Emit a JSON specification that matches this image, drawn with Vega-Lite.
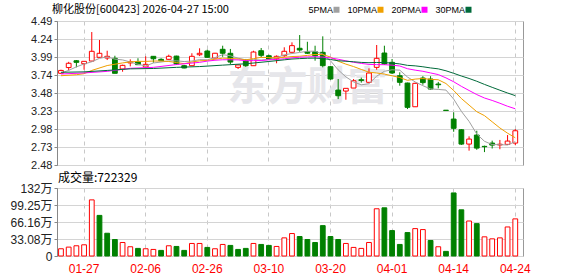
{
  "$schema": "https://vega.github.io/schema/vega-lite/v6.json",
  "padding": {"left": 6, "top": 3, "right": 4, "bottom": 0},
  "spacing": 0,
  "resolve": {"legend": {"color": "independent"}, "scale": {"color": "independent"}},
  "datasets": {
    "k": [
      {"d":"01-22","o":3.76,"h":3.81,"l":3.75,"c":3.80,"v":141000,"m5":3.765,"m10":3.726,"m20":3.75,"m30":3.774},
      {"d":"01-23","o":3.84,"h":3.92,"l":3.80,"c":3.90,"v":173000,"m5":3.80},
      {"d":"01-26","o":3.935,"h":3.945,"l":3.843,"c":3.913,"v":199000,"m5":3.85,"m10":3.74},
      {"d":"01-27","o":3.894,"h":3.93,"l":3.81,"c":3.927,"v":218000,"m5":3.89,"m10":3.755,"m20":3.765,"m30":3.78},
      {"d":"01-28","o":3.931,"h":4.336,"l":3.925,"c":4.067,"v":1092000,"m5":3.921,"m10":3.80},
      {"d":"01-29","o":3.983,"h":4.225,"l":3.975,"c":4.039,"v":790000,"m5":3.969},
      {"d":"01-30","o":3.973,"h":4.075,"l":3.945,"c":3.997,"v":443000,"m5":3.989,"m10":3.868,"m20":3.787,"m30":3.80},
      {"d":"02-02","o":3.969,"h":4.005,"l":3.76,"c":3.76,"v":321000,"m5":3.958},
      {"d":"02-03","o":3.82,"h":3.88,"l":3.782,"c":3.871,"v":263000,"m5":3.947,"m10":3.905},
      {"d":"02-04","o":3.905,"h":3.955,"l":3.857,"c":3.92,"v":180000,"m5":3.917,"m10":3.919,"m20":3.83,"m30":3.822},
      {"d":"02-05","o":3.918,"h":3.97,"l":3.875,"c":3.88,"v":148000,"m5":3.886,"m10":3.927},
      {"d":"02-06","o":3.848,"h":3.997,"l":3.834,"c":3.885,"v":141000,"m5":3.863,"m10":3.926},
      {"d":"02-09","o":3.997,"h":4.0,"l":3.908,"c":3.963,"v":128000,"m5":3.904,"m10":3.931,"m20":3.843,"m30":3.827},
      {"d":"02-10","o":3.955,"h":3.97,"l":3.93,"c":3.935,"v":109000,"m5":3.917,"m10":3.932},
      {"d":"02-11","o":3.955,"h":4.02,"l":3.95,"c":3.997,"v":199000,"m5":3.932,"m10":3.925},
      {"d":"02-12","o":4.0,"h":4.005,"l":3.88,"c":3.89,"v":186000,"m5":3.934,"m10":3.910,"m20":3.882,"m30":3.843},
      {"d":"02-13","o":3.866,"h":3.875,"l":3.83,"c":3.834,"v":109000,"m5":3.924,"m10":3.894},
      {"d":"02-24","o":3.866,"h":4.04,"l":3.866,"c":3.997,"v":244000,"m5":3.931,"m10":3.917},
      {"d":"02-25","o":4.019,"h":4.109,"l":4.0,"c":4.039,"v":244000,"m5":3.951,"m10":3.934,"m20":3.913,"m30":3.854},
      {"d":"02-26","o":4.071,"h":4.09,"l":3.978,"c":3.983,"v":167000,"m5":3.949,"m10":3.940,"m20":3.930},
      {"d":"02-27","o":3.973,"h":4.045,"l":3.97,"c":4.04,"v":141000,"m5":3.979,"m10":3.956,"m20":3.942},
      {"d":"03-02","o":4.095,"h":4.145,"l":3.99,"c":4.04,"v":225000,"m5":4.020,"m10":3.972,"m20":3.949,"m30":3.874},
      {"d":"03-03","o":4.039,"h":4.10,"l":3.89,"c":3.917,"v":206000,"m5":4.004,"m10":3.967,"m20":3.949},
      {"d":"03-04","o":3.843,"h":3.88,"l":3.82,"c":3.876,"v":128000,"m5":3.971,"m10":3.961,"m20":3.947},
      {"d":"03-05","o":3.935,"h":3.96,"l":3.85,"c":3.866,"v":148000,"m5":3.948,"m10":3.948,"m20":3.936,"m30":3.893},
      {"d":"03-06","o":3.866,"h":4.075,"l":3.866,"c":4.057,"v":244000,"m5":3.951,"m10":3.965,"m20":3.937},
      {"d":"03-09","o":4.075,"h":4.113,"l":3.983,"c":4.011,"v":225000,"m5":3.945,"m10":3.983,"m20":3.938},
      {"d":"03-10","o":4.005,"h":4.02,"l":3.95,"c":3.959,"v":206000,"m5":3.954,"m10":3.979,"m20":3.948,"m30":3.925},
      {"d":"03-11","o":3.963,"h":4.01,"l":3.90,"c":3.997,"v":186000,"m5":3.978,"m10":3.975,"m20":3.954},
      {"d":"03-12","o":4.005,"h":4.123,"l":3.99,"c":4.067,"v":353000,"m5":4.018,"m10":3.983,"m20":3.962,"m30":3.948},
      {"d":"03-13","o":4.053,"h":4.192,"l":4.05,"c":4.146,"v":437000,"m5":4.036,"m10":3.994,"m20":3.975,"m30":3.959},
      {"d":"03-16","o":4.109,"h":4.294,"l":4.061,"c":4.085,"v":379000,"m5":4.051,"m10":3.998,"m20":3.985,"m30":3.965},
      {"d":"03-17","o":4.06,"h":4.20,"l":4.03,"c":4.04,"v":321000,"m5":4.067,"m10":4.010,"m20":3.989,"m30":3.970},
      {"d":"03-18","o":4.061,"h":4.145,"l":3.936,"c":4.005,"v":263000,"m5":4.069,"m10":4.023,"m20":3.992,"m30":3.972},
      {"d":"03-19","o":4.053,"h":4.276,"l":3.843,"c":3.866,"v":591000,"m5":4.028,"m10":4.023,"m20":3.986,"m30":3.965},
      {"d":"03-20","o":3.852,"h":3.86,"l":3.67,"c":3.68,"v":379000,"m5":3.935,"m10":3.986,"m20":3.975,"m30":3.953},
      {"d":"03-23","o":3.526,"h":3.68,"l":3.40,"c":3.447,"v":321000,"m5":3.808,"m10":3.929,"m20":3.956,"m30":3.935},
      {"d":"03-24","o":3.512,"h":3.55,"l":3.391,"c":3.55,"v":244000,"m5":3.710,"m10":3.888,"m20":3.934,"m30":3.928},
      {"d":"03-25","o":3.554,"h":3.68,"l":3.554,"c":3.656,"v":167000,"m5":3.640,"m10":3.854,"m20":3.914,"m30":3.921},
      {"d":"03-26","o":3.67,"h":3.70,"l":3.63,"c":3.66,"v":148000,"m5":3.599,"m10":3.814,"m20":3.898,"m30":3.912},
      {"d":"03-27","o":3.634,"h":3.829,"l":3.634,"c":3.764,"v":263000,"m5":3.615,"m10":3.775,"m20":3.884,"m30":3.908},
      {"d":"03-30","o":3.843,"h":4.155,"l":3.81,"c":3.969,"v":919000,"m5":3.720,"m10":3.764,"m20":3.881,"m30":3.911},
      {"d":"03-31","o":4.043,"h":4.145,"l":3.88,"c":3.89,"v":938000,"m5":3.788,"m10":3.749,"m20":3.880,"m30":3.909},
      {"d":"04-01","o":3.913,"h":3.96,"l":3.75,"c":3.764,"v":495000,"m5":3.809,"m10":3.725,"m20":3.874,"m30":3.903},
      {"d":"04-02","o":3.726,"h":3.774,"l":3.587,"c":3.634,"v":225000,"m5":3.804,"m10":3.701,"m20":3.862,"m30":3.891},
      {"d":"04-03","o":3.624,"h":3.63,"l":3.261,"c":3.285,"v":456000,"m5":3.708,"m10":3.662,"m20":3.824,"m30":3.871},
      {"d":"04-07","o":3.293,"h":3.63,"l":3.29,"c":3.62,"v":533000,"m5":3.639,"m10":3.679,"m20":3.804,"m30":3.864},
      {"d":"04-08","o":3.694,"h":3.72,"l":3.60,"c":3.63,"v":514000,"m5":3.587,"m10":3.687,"m20":3.788,"m30":3.851},
      {"d":"04-09","o":3.68,"h":3.72,"l":3.53,"c":3.54,"v":302000,"m5":3.542,"m10":3.676,"m20":3.765,"m30":3.835},
      {"d":"04-10","o":3.61,"h":3.64,"l":3.55,"c":3.60,"v":180000,"m5":3.535,"m10":3.670,"m20":3.742,"m30":3.822},
      {"d":"04-13","o":3.245,"h":3.245,"l":3.24,"c":3.24,"v":90000,"m5":3.526,"m10":3.617,"m20":3.696,"m30":3.795},
      {"d":"04-14","o":3.121,"h":3.215,"l":2.944,"c":2.992,"v":1227000,"m5":3.400,"m10":3.520,"m20":3.642,"m30":3.760},
      {"d":"04-15","o":2.972,"h":2.98,"l":2.76,"c":2.772,"v":899000,"m5":3.229,"m10":3.408,"m20":3.578,"m30":3.722},
      {"d":"04-16","o":2.772,"h":2.88,"l":2.68,"c":2.842,"v":681000,"m5":3.089,"m10":3.316,"m20":3.520,"m30":3.688},
      {"d":"04-17","o":2.898,"h":2.958,"l":2.692,"c":2.716,"v":630000,"m5":2.912,"m10":3.224,"m20":3.463,"m30":3.649},
      {"d":"04-20","o":2.74,"h":2.75,"l":2.66,"c":2.735,"v":373000,"m5":2.811,"m10":3.169,"m20":3.415,"m30":3.605},
      {"d":"04-21","o":2.786,"h":2.82,"l":2.71,"c":2.758,"v":334000,"m5":2.765,"m10":3.083,"m20":3.381,"m30":3.564},
      {"d":"04-22","o":2.76,"h":2.83,"l":2.70,"c":2.77,"v":353000,"m5":2.764,"m10":2.997,"m20":3.342,"m30":3.524},
      {"d":"04-23","o":2.768,"h":2.898,"l":2.768,"c":2.814,"v":565000,"m5":2.759,"m10":2.924,"m20":3.300,"m30":3.485},
      {"d":"04-24","o":2.786,"h":2.982,"l":2.758,"c":2.958,"v":722329,"m5":2.807,"m10":2.860,"m20":3.265,"m30":3.448}
    ]
  },
  "vconcat": [
    {
      "width": 466,
      "height": 144,
      "title": {"text": "柳化股份[600423] 2026-04-27 15:00", "anchor": "start", "frame": "group", "dx": -5, "offset": -10, "font": "Noto Sans CJK SC", "fontSize": 11, "fontWeight": "normal", "color": "#000000"},
      "data": {"name": "k"},
      "encoding": {
        "x": {
          "field": "d", "type": "ordinal",
          "scale": {"type": "band", "paddingInner": 0.38, "paddingOuter": 0.45, "align": 0.23},
          "axis": {"title": null, "values": ["01-27","02-06","02-26","03-10","03-20","04-01","04-14","04-24"], "labels": false, "ticks": false, "domain": false, "grid": true, "gridDash": [4, 4], "gridColor": "#c8c8c8", "bandPosition": 0.5, "minExtent": 0, "maxExtent": 0, "labelPadding": 0}
        }
      },
      "layer": [
        {
          "data": {"values": [{}]},
          "mark": {"type": "text", "text": "东方财富", "font": "Noto Sans CJK SC", "fontSize": 40, "fontWeight": "bold", "color": "#e6e6ea", "align": "center", "baseline": "middle"},
          "encoding": {
            "x": {"datum": "03-17"},
            "y": {"datum": 3.55, "type": "quantitative", "scale": {"domain": [2.48, 4.49], "zero": false, "nice": false},
              "axis": {"title": null, "values": [2.48, 2.73125, 2.9825, 3.23375, 3.485, 3.73625, 3.9875, 4.23875, 4.49], "format": ".2f", "labelOverlap": false, "labelFont": "Liberation Sans", "labelFontSize": 11, "labelColor": "#222222", "tickSize": 3, "tickColor": "#888888", "domainColor": "#888888", "grid": true, "gridColor": "#d4d4d4", "labelPadding": 2, "minExtent": 50, "maxExtent": 50}}
          }
        },
        {
          "mark": {"type": "rule", "strokeWidth": 1},
          "encoding": {
            "y": {
              "field": "l", "type": "quantitative",
              "scale": {"domain": [2.48, 4.49], "zero": false, "nice": false},
              "axis": {"title": null, "values": [2.48, 2.73125, 2.9825, 3.23375, 3.485, 3.73625, 3.9875, 4.23875, 4.49], "format": ".2f", "labelOverlap": false, "labelFont": "Liberation Sans", "labelFontSize": 11, "labelColor": "#222222", "tickSize": 3, "tickColor": "#888888", "domainColor": "#888888", "grid": true, "gridColor": "#d4d4d4", "labelPadding": 2, "minExtent": 50, "maxExtent": 50}
            },
            "y2": {"field": "h"},
            "stroke": {"condition": {"test": "datum.c > datum.o", "value": "#ff0000"}, "value": "#008000"}
          }
        },
        {
          "mark": {"type": "bar", "strokeWidth": 1},
          "encoding": {
            "y": {"field": "o", "type": "quantitative",
              "scale": {"domain": [2.48, 4.49], "zero": false, "nice": false},
              "axis": {"title": null, "values": [2.48, 2.73125, 2.9825, 3.23375, 3.485, 3.73625, 3.9875, 4.23875, 4.49], "format": ".2f", "labelOverlap": false, "labelFont": "Liberation Sans", "labelFontSize": 11, "labelColor": "#222222", "tickSize": 3, "tickColor": "#888888", "domainColor": "#888888", "grid": true, "gridColor": "#d4d4d4", "labelPadding": 2, "minExtent": 50, "maxExtent": 50}},
            "y2": {"field": "c"},
            "fill": {"condition": {"test": "datum.c > datum.o", "value": "#ffffff"}, "value": "#008000"},
            "stroke": {"condition": {"test": "datum.c > datum.o", "value": "#ff0000"}, "value": "#008000"}
          }
        },
        {
          "transform": [
            {"fold": ["m5", "m10", "m20", "m30"], "as": ["k", "val"]},
            {"filter": "datum.val != null"}
          ],
          "mark": {"type": "line", "strokeWidth": 1},
          "encoding": {
            "y": {"field": "val", "type": "quantitative",
              "scale": {"domain": [2.48, 4.49], "zero": false, "nice": false},
              "axis": {"title": null, "values": [2.48, 2.73125, 2.9825, 3.23375, 3.485, 3.73625, 3.9875, 4.23875, 4.49], "format": ".2f", "labelOverlap": false, "labelFont": "Liberation Sans", "labelFontSize": 11, "labelColor": "#222222", "tickSize": 3, "tickColor": "#888888", "domainColor": "#888888", "grid": true, "gridColor": "#d4d4d4", "labelPadding": 2, "minExtent": 50, "maxExtent": 50}},
            "color": {
              "field": "k", "type": "nominal",
              "scale": {"domain": ["m5", "m10", "m20", "m30"], "range": ["#a0a0a0", "#f0a000", "#ff00ff", "#006a3a"]},
              "legend": {"orient": "none", "legendX": 275, "legendY": -16, "direction": "horizontal", "title": null, "symbolType": "square", "symbolSize": 4, "symbolStrokeWidth": 4, "labelFont": "Liberation Sans", "labelFontSize": 9, "labelColor": "#000000", "labelAlign": "right", "labelOffset": -8, "columnPadding": 1, "labelExpr": "{'m5':'5PMA','m10':'10PMA','m20':'20PMA','m30':'30PMA'}[datum.label]"}
            }
          }
        }
      ]
    },
    {
      "width": 466,
      "height": 68,
      "title": {"text": "成交量:722329", "anchor": "start", "frame": "group", "dx": 1, "offset": -3, "font": "Noto Sans CJK SC", "fontSize": 12, "fontWeight": "normal", "color": "#000000"},
      "data": {"name": "k"},
      "transform": [
        {"window": [{"op": "lag", "field": "c", "as": "pc"}], "sort": [{"field": "d", "order": "ascending"}]}
      ],
      "mark": {"type": "bar", "strokeWidth": 1},
      "encoding": {
        "x": {
          "field": "d", "type": "ordinal",
          "scale": {"type": "band", "paddingInner": 0.38, "paddingOuter": 0.45, "align": 0.23},
          "axis": {"title": null, "values": ["01-27","02-06","02-26","03-10","03-20","04-01","04-14","04-24"], "labelAngle": 0, "labelColor": "#ff0000", "labelFont": "Liberation Sans", "labelFontSize": 12, "ticks": false, "domain": false, "labelPadding": 7, "grid": true, "gridDash": [4, 4], "gridColor": "#c8c8c8", "bandPosition": 0.5}
        },
        "y": {
          "field": "v", "type": "quantitative",
          "scale": {"domain": [0, 1323300], "nice": false},
          "axis": {"title": null, "values": [0, 330825, 661650, 992475, 1323300], "labelOverlap": false, "labelExpr": "datum.value == 0 ? '0' : datum.value > 1300000 ? '132万' : datum.value > 900000 ? '99.25万' : datum.value > 600000 ? '66.16万' : '33.08万'", "labelFont": "Liberation Sans, Noto Sans CJK SC", "labelFontSize": 12, "labelColor": "#222222", "tickSize": 3, "tickColor": "#888888", "domainColor": "#888888", "grid": true, "gridColor": "#d4d4d4", "labelPadding": 2, "minExtent": 50, "maxExtent": 50}
        },
        "fill": {"condition": {"test": "datum.pc == null || datum.c >= datum.pc", "value": "#ffffff"}, "value": "#008000"},
        "stroke": {"condition": {"test": "datum.pc == null || datum.c >= datum.pc", "value": "#ff0000"}, "value": "#008000"}
      }
    }
  ],
  "config": {
    "font": "Liberation Sans",
    "axis": {"labelOverlap": false},
    "view": {"stroke": "#999999", "strokeWidth": 1}
  }
}
